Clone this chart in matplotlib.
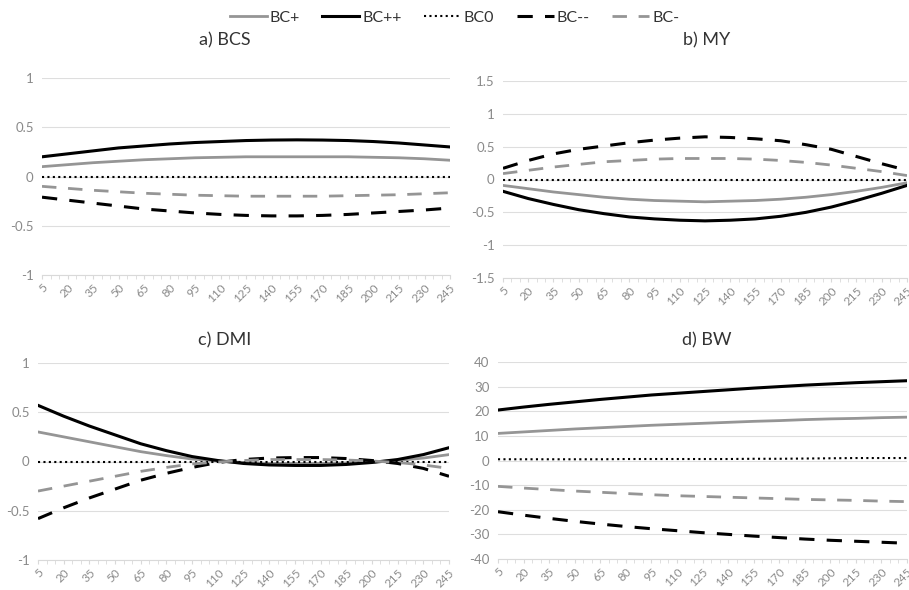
import numpy as np
import matplotlib.pyplot as plt
from matplotlib.lines import Line2D

plt.rcParams['font.family'] = ['Lato', 'DejaVu Sans']

# days in milk (labelled categories)
dias = [5, 20, 35, 50, 65, 80, 95, 110, 125, 140, 155, 170, 185, 200, 215, 230, 245]
series = ['BC+', 'BC++', 'BC0', 'BC--', 'BC-']

# a) BCS
bcs_p = [0.10, 0.12, 0.14, 0.155, 0.17, 0.18, 0.19, 0.195, 0.20, 0.20, 0.20, 0.20, 0.20, 0.195, 0.19, 0.18, 0.165]
bcs_pp = [0.20, 0.23, 0.26, 0.29, 0.31, 0.33, 0.345, 0.355, 0.365, 0.37, 0.372, 0.37, 0.365, 0.355, 0.34, 0.32, 0.30]
bcs_0 = [0.0] * 17
bcs_mm = [-0.21, -0.24, -0.27, -0.30, -0.33, -0.35, -0.37, -0.385, -0.395, -0.40, -0.40, -0.395, -0.385, -0.37, -0.355, -0.34, -0.32]
bcs_m = [-0.10, -0.12, -0.14, -0.155, -0.17, -0.18, -0.19, -0.195, -0.20, -0.20, -0.20, -0.20, -0.195, -0.19, -0.185, -0.175, -0.165]

# b) MY
my_p = [-0.09, -0.14, -0.19, -0.23, -0.27, -0.30, -0.32, -0.33, -0.34, -0.33, -0.32, -0.30, -0.27, -0.23, -0.18, -0.12, -0.05]
my_pp = [-0.18, -0.29, -0.38, -0.46, -0.52, -0.57, -0.60, -0.62, -0.63, -0.62, -0.60, -0.56, -0.50, -0.42, -0.32, -0.21, -0.09]
my_0 = [0.0] * 17
my_mm = [0.17, 0.29, 0.39, 0.46, 0.51, 0.56, 0.60, 0.63, 0.65, 0.64, 0.62, 0.59, 0.53, 0.46, 0.35, 0.24, 0.14]
my_m = [0.09, 0.14, 0.19, 0.23, 0.27, 0.29, 0.31, 0.32, 0.32, 0.32, 0.31, 0.29, 0.26, 0.22, 0.17, 0.12, 0.06]

# c) DMI
dmi_p = [0.30, 0.25, 0.20, 0.15, 0.10, 0.06, 0.025, 0.005, -0.01, -0.02, -0.02, -0.02, -0.015, -0.005, 0.01, 0.035, 0.07]
dmi_pp = [0.57, 0.46, 0.36, 0.27, 0.18, 0.11, 0.05, 0.01, -0.02, -0.035, -0.04, -0.04, -0.03, -0.01, 0.02, 0.07, 0.14]
dmi_0 = [0.0] * 17
dmi_mm = [-0.58, -0.47, -0.37, -0.28, -0.19, -0.12, -0.06, -0.01, 0.02, 0.035, 0.04, 0.04, 0.03, 0.01, -0.02, -0.07, -0.15]
dmi_m = [-0.30, -0.25, -0.20, -0.15, -0.10, -0.06, -0.025, -0.005, 0.01, 0.02, 0.02, 0.02, 0.015, 0.005, -0.01, -0.035, -0.07]

# d) BW
bw_p = [11.0, 11.6, 12.2, 12.8, 13.3, 13.8, 14.3, 14.7, 15.1, 15.5, 15.9, 16.2, 16.6, 16.9, 17.1, 17.4, 17.6]
bw_pp = [20.5, 21.7, 22.8, 23.8, 24.8, 25.7, 26.6, 27.3, 28.0, 28.7, 29.4, 30.0, 30.6, 31.1, 31.6, 32.0, 32.4]
bw_0 = [0.5, 0.5, 0.5, 0.5, 0.5, 0.6, 0.6, 0.6, 0.6, 0.6, 0.7, 0.7, 0.8, 0.9, 1.0, 1.0, 1.0]
bw_mm = [-20.8, -22.2, -23.5, -24.7, -25.8, -26.8, -27.7, -28.5, -29.3, -30.0, -30.7, -31.3, -31.9, -32.4, -32.8, -33.2, -33.6]
bw_m = [-10.5, -11.2, -11.8, -12.4, -12.9, -13.4, -13.9, -14.3, -14.6, -14.9, -15.2, -15.5, -15.8, -16.0, -16.2, -16.5, -16.7]

gris = '#959595'
estils = {
    'BC+': dict(color=gris, ls='-', lw=2.0),
    'BC++': dict(color='black', ls='-', lw=2.2),
    'BC0': dict(color='black', ls=(0, (1, 1.6)), lw=1.5),
    'BC--': dict(color='black', ls=(0, (5.0, 4.0)), lw=2.2),
    'BC-': dict(color=gris, ls=(0, (5.2, 4.2)), lw=2.0),
}

panells = [
    ('a) BCS', [bcs_p, bcs_pp, bcs_0, bcs_mm, bcs_m], [1, 0.5, 0, -0.5, -1], ['1', '0.5', '0', '-0.5', '-1'],
     [42, 450, 78, 275], (225, 40)),
    ('b) MY', [my_p, my_pp, my_0, my_mm, my_m], [1.5, 1, 0.5, 0, -0.5, -1, -1.5],
     ['1.5', '1', '0.5', '0', '-0.5', '-1', '-1.5'], [503, 907, 81, 278], (707, 40)),
    ('c) DMI', [dmi_p, dmi_pp, dmi_0, dmi_mm, dmi_m], [1, 0.5, 0, -0.5, -1], ['1', '0.5', '0', '-0.5', '-1'],
     [38, 449, 363, 560], (225, 340)),
    ('d) BW', [bw_p, bw_pp, bw_0, bw_mm, bw_m], [40, 30, 20, 10, 0, -10, -20, -30, -40],
     ['40', '30', '20', '10', '0', '-10', '-20', '-30', '-40'], [498, 907, 362, 559], (707, 340)),
]

W, H = 909, 590
fig = plt.figure(figsize=(W / 100, H / 100), dpi=100)
color_text = '#8a8a8a'

for titol, dades, yt, ytl, (x0, x1, y0, y1), (tx, ty) in panells:
    ax = fig.add_axes([x0 / W, 1 - y1 / H, (x1 - x0) / W, (y1 - y0) / H])
    for nom, vals in zip(series, dades):
        ax.plot(dias, vals, **estils[nom])
    ax.set_xlim(5, 245)
    ax.set_ylim(yt[-1], yt[0])
    ax.set_yticks(yt)
    ax.set_yticklabels(ytl)
    ax.set_xticks(dias)
    ax.set_xticklabels([str(d) for d in dias], rotation=45, ha='right', rotation_mode='anchor')
    ax.set_xticks(np.arange(5, 250, 5), minor=True)
    ax.grid(axis='y', color='#dedede', lw=0.8)
    ax.set_axisbelow(True)
    for s in ['top', 'right', 'left']:
        ax.spines[s].set_visible(False)
    ax.spines['bottom'].set_color('#d9d9d9')
    ax.tick_params(axis='y', length=0, labelsize=9.5, labelcolor=color_text, pad=6)
    ax.tick_params(axis='x', which='both', length=3, color='#d9d9d9', labelsize=8.5, labelcolor=color_text, pad=2)
    fig.text(tx / W, 1 - ty / H, titol, ha='center', va='center', fontsize=13, color='#333333')

handles = [Line2D([], [], **estils[n]) for n in series]
fig.legend(handles, series, loc='center', bbox_to_anchor=(0.5, 1 - 18 / H), ncol=5, frameon=False,
           fontsize=11.5, handlelength=2.3, handletextpad=0.2, columnspacing=1.4, labelcolor='#333333')

fig.savefig('out.png', dpi=100)
